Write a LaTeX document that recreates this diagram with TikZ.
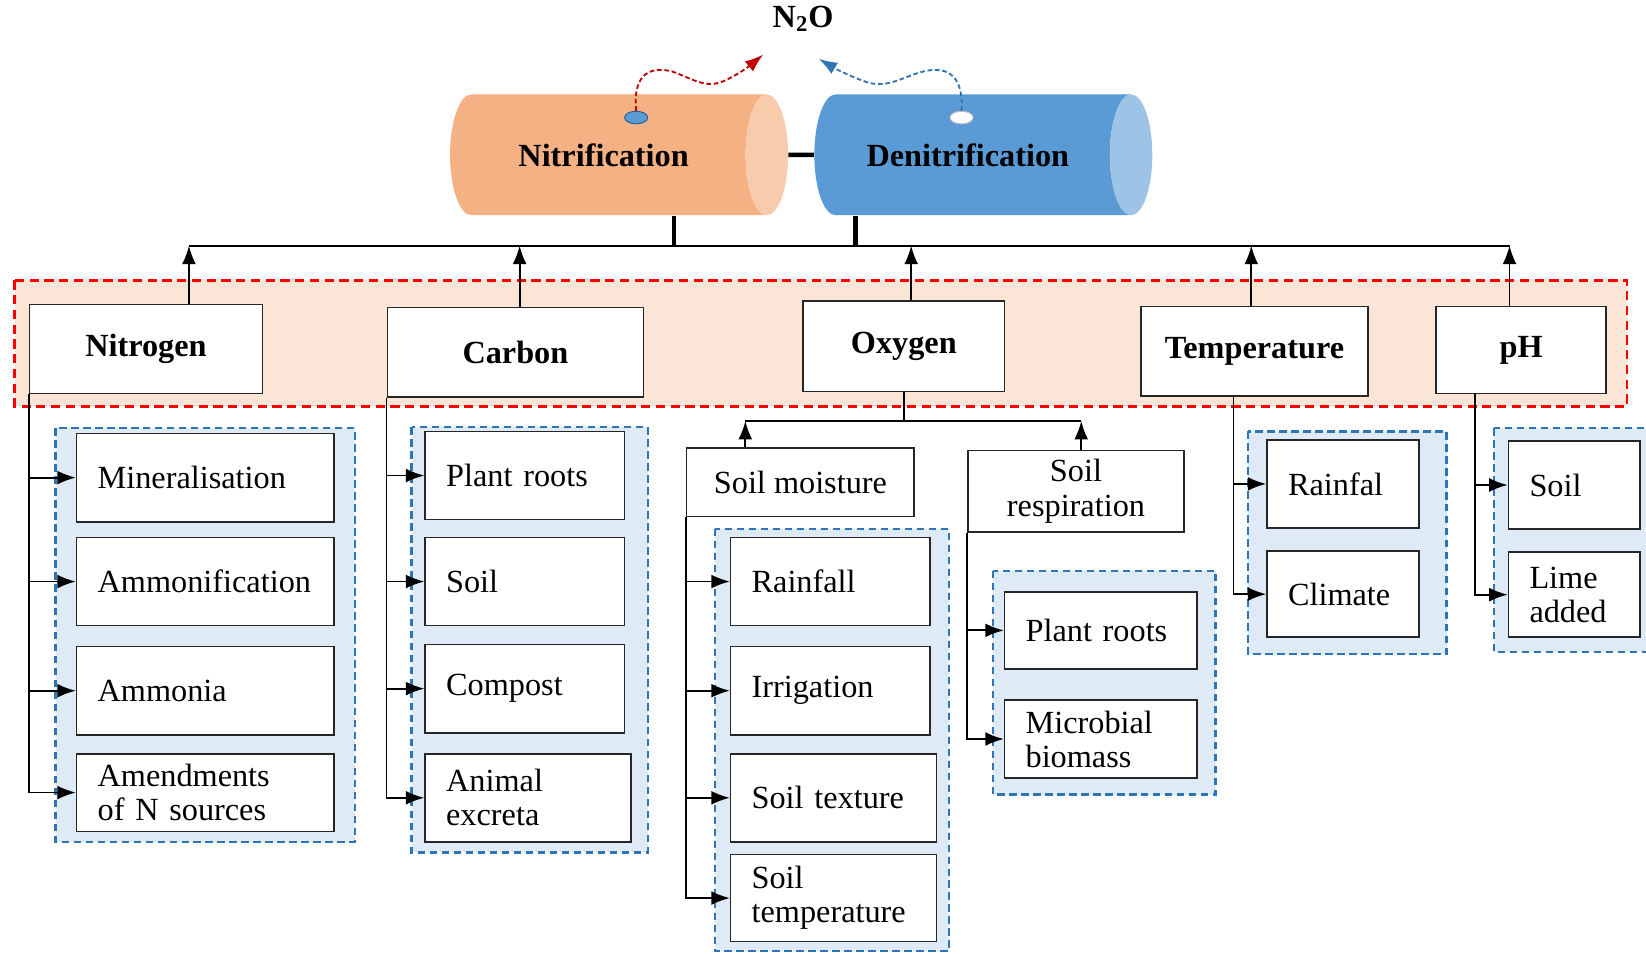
\documentclass[tikz,border=0pt]{standalone}
\usepackage{fontspec}
\setmainfont{Liberation Serif}
\usetikzlibrary{shapes.geometric,arrows.meta}

\definecolor{nitbody}{HTML}{F4B183}
\definecolor{nitend}{HTML}{F8CBAD}
\definecolor{denbody}{HTML}{5B9BD5}
\definecolor{denend}{HTML}{9DC3E6}
\definecolor{peach}{HTML}{FBE5D6}
\definecolor{paleblue}{HTML}{DEEBF7}
\definecolor{dashblue}{HTML}{2E75B6}
\definecolor{wavered}{HTML}{C00000}

\newcommand{\bigtext}{\fontsize{17.5}{18.5}\selectfont}

\begin{document}
\begin{tikzpicture}[x=0.02cm, y=-0.02cm,
    cyl_node/.style={cylinder, shape border rotate=0, aspect=1.2, minimum width=2.3cm, minimum height=6.44cm, cylinder uses custom fill, font=\bigtext\bfseries},
    dot_node/.style={ellipse, line width=0.5pt, minimum width=0.44cm, minimum height=0.24cm, inner sep=0pt},
    factor_node/.style={draw=black!85, fill=white, line width=0.9pt, minimum height=1.7cm, inner sep=0pt, font=\bigtext\bfseries},
    mid_node/.style={draw=black!85, fill=white, line width=0.9pt, inner sep=0pt, align=center, font=\bigtext},
    sub_node/.style={draw=black!85, fill=white, line width=0.9pt, inner xsep=0.4cm, inner ysep=0pt, minimum height=1.68cm, align=left, font=\bigtext},
    red_group/.style={draw=red, fill=peach, line width=1.4pt, dash pattern=on 5pt off 3pt},
    blue_group/.style={draw=dashblue, fill=paleblue, line width=1.3pt, dash pattern=on 4pt off 2.5pt},
    link/.style={draw=black, line width=1pt},
    arrow_link/.style={link, -{Latex[length=10pt,width=7.5pt]}},
    wave/.style={line width=1pt, dash pattern=on 2.5pt off 1.5pt, -{Latex[length=10pt,width=7pt]}}]

    \useasboundingbox[fill=white] (0,0) rectangle (1568,908);

    % groups behind the boxes
    \draw[red_group] (14,267) rectangle (1550,387);
    \draw[blue_group] (53,408) rectangle (338,802);
    \draw[blue_group] (392,407) rectangle (617,812);
    \draw[blue_group] (681,504) rectangle (904,906);
    \draw[blue_group] (946,544) rectangle (1158,757);
    \draw[blue_group] (1189,411) rectangle (1378,623);
    \draw[blue_group] (1423,408) rectangle (1590,621);

    \node[font=\bigtext\bfseries] (n2o) at (765,18) {N\textsubscript{2}O};
    \node[cyl_node, cylinder body fill=nitbody, cylinder end fill=nitend] (nit) at (575,147.5) {Nitrification};
    \node[cyl_node, cylinder body fill=denbody, cylinder end fill=denend] (den) at (922,147.5) {Denitrification};
    \node[dot_node, fill=denbody, draw=dashblue!80!black] (dot_n) at (606,112) {};
    \node[dot_node, fill=white, draw=black!25] (dot_d) at (916,112) {};
    \coordinate (tip_n) at (727,52);
    \coordinate (tip_d) at (780,56);

    \node[factor_node, minimum width=4.44cm] (nitrogen) at (139,332.5) {Nitrogen};
    \node[factor_node, minimum width=4.88cm] (carbon) at (491,335.5) {Carbon};
    \node[factor_node, minimum width=3.84cm, minimum height=1.72cm] (oxygen) at (861,330) {Oxygen};
    \node[factor_node, minimum width=4.32cm] (temp) at (1195,334.5) {Temperature};
    \node[factor_node, minimum width=3.24cm, minimum height=1.66cm] (ph) at (1449,333.5) {pH};

    \node[sub_node, text width=4.1cm] (n_min) at (195.5,455) {Mineralisation};
    \node[sub_node, text width=4.1cm] (n_amf) at (195.5,554) {Ammonification};
    \node[sub_node, text width=4.1cm] (n_amn) at (195.5,658) {Ammonia};
    \node[sub_node, text width=4.1cm, minimum height=1.48cm] (n_ame) at (195.5,755) {Amendments\\of N sources};

    \node[sub_node, text width=3cm] (c_roots) at (500,453) {Plant roots};
    \node[sub_node, text width=3cm] (c_soil) at (500,554) {Soil};
    \node[sub_node, text width=3cm] (c_comp) at (500,656) {Compost};
    \node[sub_node, text width=3.12cm] (c_anim) at (503,760) {Animal\\excreta};

    \node[mid_node, minimum width=4.34cm, minimum height=1.3cm] (o_moist) at (762.5,459.5) {Soil moisture};
    \node[mid_node, minimum width=4.12cm, minimum height=1.56cm] (o_resp) at (1025,468) {Soil\\respiration};

    \node[sub_node, text width=3cm] (m_rain) at (791,554) {Rainfall};
    \node[sub_node, text width=3cm] (m_irr) at (791,658) {Irrigation};
    \node[sub_node, text width=3.12cm] (m_tex) at (794,760) {Soil texture};
    \node[sub_node, text width=3.12cm, minimum height=1.66cm] (m_temp) at (794,855.5) {Soil\\temperature};

    \node[sub_node, text width=2.86cm, minimum height=1.46cm] (r_roots) at (1048.5,600.5) {Plant roots};
    \node[sub_node, text width=2.86cm, minimum height=1.48cm] (r_micro) at (1048.5,704) {Microbial\\biomass};

    \node[sub_node, text width=2.1cm] (t_rain) at (1279.5,461) {Rainfal};
    \node[sub_node, text width=2.1cm, minimum height=1.64cm] (t_clim) at (1279.5,566) {Climate};

    \node[sub_node, text width=1.7cm] (p_soil) at (1499.5,462) {Soil};
    \node[sub_node, text width=1.7cm, minimum height=1.62cm] (p_lime) at (1499.5,566.5) {Lime\\added};

    % emissions
    \draw[wave, wavered] (dot_n.north) .. controls (603,75) and (615,62) .. (640,68)
        .. controls (660,75) and (672,85) .. (690,77) .. controls (705,70) and (715,62) .. (tip_n);
    \draw[wave, dashblue] (dot_d.north) .. controls (918,75) and (905,62) .. (880,68)
        .. controls (860,73) and (845,85) .. (825,78) .. controls (808,72) and (795,65) .. (tip_d);

    % bus to the two processes
    \coordinate (bus_nit) at (642,234);
    \coordinate (bus_den) at (815,234);
    \coordinate (bus_nitrogen) at (180,234);
    \coordinate (bus_carbon) at (495,234);
    \coordinate (bus_oxygen) at (868,234);
    \coordinate (bus_temp) at (1192,234);
    \coordinate (bus_ph) at (1438,234);
    \draw[link, line width=2.4pt] (nit.east) -- (den.west);
    \draw[link, line width=2.4pt] (nit.south -| bus_nit) -- (bus_nit);
    \draw[link, line width=2.4pt] (den.south -| bus_den) -- (bus_den);
    \draw[link] (bus_nitrogen) -- (bus_ph);
    \draw[arrow_link] (nitrogen.north -| bus_nitrogen) -- (bus_nitrogen);
    \draw[arrow_link] (carbon.north -| bus_carbon) -- (bus_carbon);
    \draw[arrow_link] (oxygen.north -| bus_oxygen) -- (bus_oxygen);
    \draw[arrow_link] (temp.north -| bus_temp) -- (bus_temp);
    \draw[arrow_link] (ph.north -| bus_ph) -- (bus_ph);

    \draw[arrow_link] (nitrogen.south west) |- (n_min.west);
    \draw[arrow_link] (nitrogen.south west) |- (n_amf.west);
    \draw[arrow_link] (nitrogen.south west) |- (n_amn.west);
    \draw[arrow_link] (nitrogen.south west) |- (n_ame.west);

    \draw[arrow_link] (carbon.south west) |- (c_roots.west);
    \draw[arrow_link] (carbon.south west) |- (c_soil.west);
    \draw[arrow_link] (carbon.south west) |- (c_comp.west);
    \draw[arrow_link] (carbon.south west) |- (c_anim.west);

    \coordinate (o_left) at (710,401);
    \coordinate (o_right) at (1030,401);
    \draw[link] (oxygen.south) -- (oxygen.south |- o_left);
    \draw[link] (o_left) -- (o_right);
    \draw[arrow_link] (o_moist.north -| o_left) -- (o_left);
    \draw[arrow_link] (o_resp.north -| o_right) -- (o_right);

    \draw[arrow_link] (o_moist.south west) |- (m_rain.west);
    \draw[arrow_link] (o_moist.south west) |- (m_irr.west);
    \draw[arrow_link] (o_moist.south west) |- (m_tex.west);
    \draw[arrow_link] (o_moist.south west) |- (m_temp.west);

    \draw[arrow_link] (o_resp.south west) |- (r_roots.west);
    \draw[arrow_link] (o_resp.south west) |- (r_micro.west);

    \draw[arrow_link] ([xshift=-0.4cm]temp.south) |- (t_rain.west);
    \draw[arrow_link] ([xshift=-0.4cm]temp.south) |- (t_clim.west);

    \draw[arrow_link] ([xshift=-0.88cm]ph.south) |- (p_soil.west);
    \draw[arrow_link] ([xshift=-0.88cm]ph.south) |- (p_lime.west);
\end{tikzpicture}
\end{document}
